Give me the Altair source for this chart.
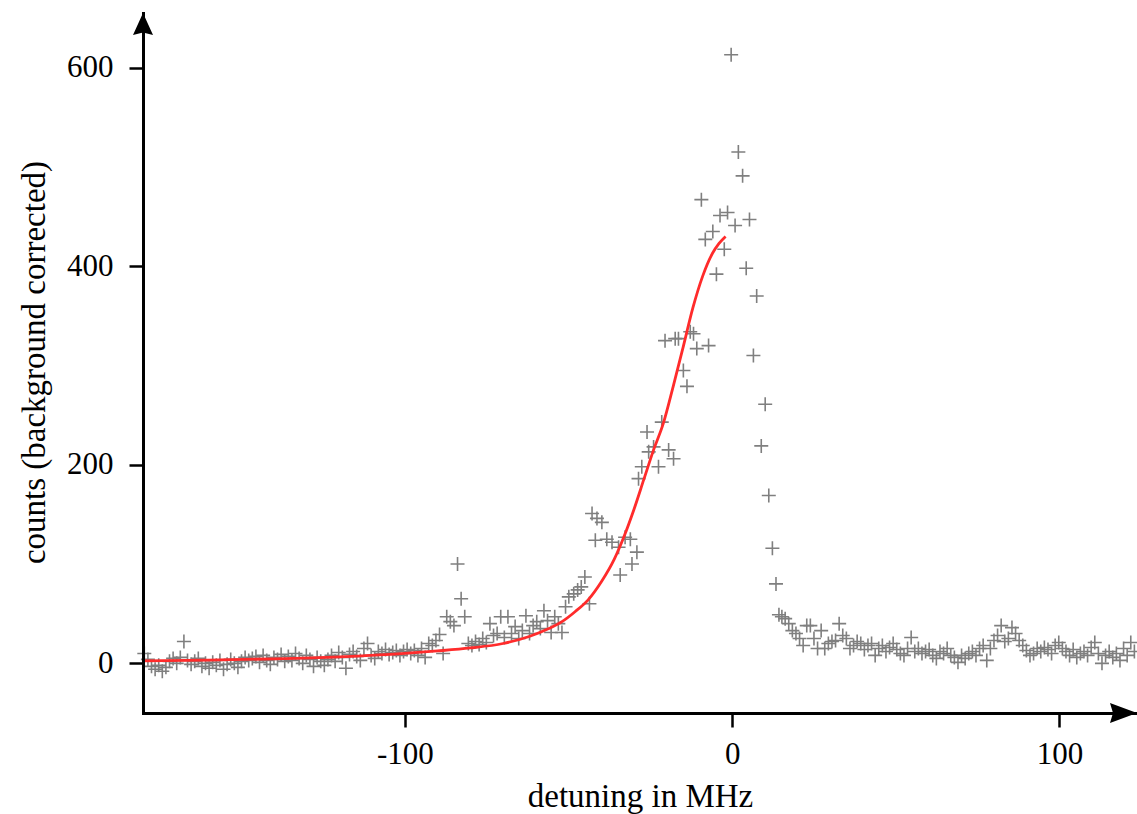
import altair as alt
import pandas as pd

# Measured spectrum: detuning (MHz) and background-corrected counts.
# Low-frequency wing
LEFT_MHZ = [
    -179.6, -178.5, -177.4, -176.3, -175.2, -174.1, -173.0, -171.9, -170.8, -169.7,
    -168.6, -167.5, -166.4, -165.3, -164.2, -163.1, -162.0, -160.9, -159.8, -158.7,
    -157.6, -156.5, -155.4, -154.3, -153.2, -152.1, -151.0, -149.9, -148.8, -147.7,
    -146.6, -145.5, -144.4, -143.3, -142.2, -141.1, -140.0, -138.9, -137.8, -136.7,
    -135.6, -134.5, -133.4, -132.3, -131.2, -130.1, -129.0, -127.9, -126.8, -125.7,
    -124.6, -123.5, -122.4, -121.3, -120.2, -119.1, -118.0, -116.9, -115.8, -114.7,
    -113.6, -112.5, -111.4, -110.3, -109.2, -108.1, -107.0, -105.9, -104.8, -103.7,
    -102.6, -101.5, -100.4, -99.3, -98.2, -97.1, -96.0, -94.9, -93.8, -92.7,
    -91.6, -90.5, -89.4, -88.3, -87.2, -86.1, -85.0, -83.9, -82.8, -81.7,
    -80.6, -79.5, -78.4, -77.3, -76.2, -75.1, -74.0, -72.9, -71.8, -70.7,
    -69.6, -68.5, -67.4, -66.3, -65.2, -64.1, -63.0, -61.9, -60.8, -59.7,
    -58.6, -57.5, -56.4, -55.3, -54.2, -53.1, -52.0, -50.9,
]
LEFT_COUNTS = [
    10, 4, -3, -6, -2, -8, -4, 2, 5, 0,
    6, 22, 3, -1, 2, 5, -3, 0, -5, 1,
    -2, 3, -6, -1, 4, 0, -4, 2, 6, 3,
    5, 7, 1, 8, 3, -1, 6, 4, 9, 2,
    7, 3, 10, 5, 0, 8, 4, -3, 6, 2,
    -2, 4, 8, 2, 11, 6, -5, 9, 12, 7,
    3, 15, 20, 8, 5, 12, 10, 14, 9, 11,
    13, 8, 12, 14, 10, 13, 8, 15, 6, 20,
    18, 23, 29, 10, 47, 42, 38, 100, 65, 47,
    20, 18, 22, 19, 25, 21, 40, 28, 30, 47,
    26, 47, 30, 37, 25, 33, 48, 30, 38, 42,
    35, 53, 43, 31, 47, 40, 31, 57,
]

# Resonance region
CORE_MHZ = [
    -49.9, -48.4, -47.2, -46.1, -45.0, -43.6, -42.8, -41.8, -41.3, -39.8,
    -38.3, -36.7, -34.7, -34.2, -32.7, -31.1, -30.6, -29.1, -28.6, -27.6,
    -26.0, -25.5, -24.0, -22.5, -21.5, -20.5, -19.4, -17.9, -17.4, -16.4,
    -14.9, -13.8, -12.8, -11.8, -10.8, -9.4, -8.2, -7.2, -5.9, -4.8,
    -3.7, -2.4, -1.4, -0.3, 0.9, 1.9, 3.2, 4.3, 5.3, 6.5,
    7.5, 8.9, 10.1, 11.2, 12.3, 13.4, 14.3, 15.2, 16.2, 17.3,
]
CORE_COUNTS = [
    67, 70, 74, 77, 87, 60, 151, 124, 146, 142,
    125, 122, 117, 89, 127, 125, 100, 112, 186, 198,
    233, 213, 218, 198, 243, 325, 215, 206, 327, 327,
    295, 279, 334, 332, 317, 467, 427, 320, 435, 392,
    451, 417, 454, 613, 441, 515, 491, 398, 447, 310,
    370, 219, 261, 169, 116, 80, 49, 47, 45, 40,
]

# High-frequency wing
RIGHT_MHZ = [
    18.4, 19.5, 20.6, 21.7, 22.8, 23.9, 25.0, 26.1, 27.2, 28.3,
    29.4, 30.5, 31.6, 32.7, 33.8, 34.9, 36.0, 37.1, 38.2, 39.3,
    40.4, 41.5, 42.6, 43.7, 44.8, 45.9, 47.0, 48.1, 49.2, 50.3,
    51.4, 52.5, 53.6, 54.7, 55.8, 56.9, 58.0, 59.1, 60.2, 61.3,
    62.4, 63.5, 64.6, 65.7, 66.8, 67.9, 69.0, 70.1, 71.2, 72.3,
    73.4, 74.5, 75.6, 76.7, 77.8, 78.9, 80.0, 81.1, 82.2, 83.3,
    84.4, 85.5, 86.6, 87.7, 88.8, 89.9, 91.0, 92.1, 93.2, 94.3,
    95.4, 96.5, 97.6, 98.7, 99.8, 100.9, 102.0, 103.1, 104.2, 105.3,
    106.4, 107.5, 108.6, 109.7, 110.8, 111.9, 113.0, 114.1, 115.2, 116.3,
    117.4, 118.5, 119.6, 120.7, 121.8, 122.9,
]
RIGHT_COUNTS = [
    33, 30, 25, 18, 38, 38, 25, 15, 33, 15,
    20, 22, 23, 40, 28, 25, 15, 18, 22, 20,
    14, 18, 20, 8, 15, 18, 12, 16, 20, 14,
    10, 8, 15, 26, 12, 15, 10, 12, 14, 8,
    5, 12, 10, 15, 8, 6, 1, 8, 5, 10,
    12, 8, 15, 18, 3, 15, 23, 28, 38, 22,
    25, 36, 30, 23, 18, 13, 8, 10, 15, 12,
    16, 14, 10, 18, 21, 15, 12, 8, 14, 6,
    10, 12, 8, 16, 21, 10, 0, 8, 12, 6,
    10, 3, 15, 8, 21, 12,
]

# Fitted curve on the red side of the resonance
FIT_MHZ = [-180, -160, -140, -120, -100, -90, -80, -70, -62, -56, -52, -48, -44, -40,
           -36, -33, -30, -27, -24, -21, -18, -15, -12, -9, -6, -4, -2]
FIT_COUNTS = [2.5, 3.3, 4.5, 6.5, 10, 12.5, 15.5, 20, 27, 35, 42, 52, 64, 82,
              105, 128, 155, 185, 215, 242, 279, 318, 358, 390, 413, 423, 430]

X_TICKS = [-100, 0, 100]
Y_TICKS = [0, 200, 400, 600]
X_DOMAIN = [-180, 123.7]
Y_DOMAIN = [-50, 655]

FONT = "Liberation Serif"
PLOT_W, PLOT_H = 994, 700

points_df = pd.DataFrame({
    "detuning": LEFT_MHZ + CORE_MHZ + RIGHT_MHZ,
    "counts": LEFT_COUNTS + CORE_COUNTS + RIGHT_COUNTS,
})
fit_df = pd.DataFrame({"detuning": FIT_MHZ, "counts": FIT_COUNTS})

axis_style = dict(
    labelFont=FONT, labelFontSize=31, labelColor="black",
    titleFont=FONT, titleFontSize=33, titleFontWeight="normal", titleColor="black",
    tickColor="black", tickWidth=2.5, tickSize=14,
    domainColor="black", domainWidth=3, domainCap="square",
    grid=False, zindex=1,
)

x_enc = alt.X(
    "detuning:Q",
    scale=alt.Scale(domain=X_DOMAIN, nice=False, zero=False),
    axis=alt.Axis(
        values=X_TICKS,
        title="detuning in MHz",
        labelExpr="datum.value < 0 ? '-' + abs(datum.value) : '' + datum.value",
        labelPadding=12,
        titleX=PLOT_W / 2, titleY=93,
        titleAlign="center", titleBaseline="alphabetic",
        **axis_style,
    ),
)
y_enc = alt.Y(
    "counts:Q",
    scale=alt.Scale(domain=Y_DOMAIN, nice=False, zero=False),
    axis=alt.Axis(
        values=Y_TICKS,
        title="counts (background corrected)",
        labelPadding=16,
        titleX=-99, titleY=PLOT_H / 2 - 1, titleAngle=270,
        titleAlign="center", titleBaseline="alphabetic",
        **axis_style,
    ),
)

# "+" markers
CROSS = "M-1,0L1,0M0,-1L0,1"
points = alt.Chart(points_df).mark_point(
    shape=CROSS, filled=False, stroke="#7f7f7f", strokeWidth=1.6, size=196, opacity=1,
).encode(x=x_enc, y=y_enc)

fit = alt.Chart(fit_df).mark_line(
    color="#ff2b2b", strokeWidth=2.8, interpolate="monotone",
).encode(x=x_enc, y=y_enc)

# Arrowheads at the ends of the axes
anchor = pd.DataFrame({"k": [0]})
X_ARROW = "M0,0L-2.7,-1L-2.4,0L-2.7,1Z"
Y_ARROW = "M0,0L-1,2.2L0,1.95L1,2.2Z"
x_arrow = alt.Chart(anchor).mark_point(
    shape=X_ARROW, filled=True, fill="black", strokeWidth=0, size=400, opacity=1,
).encode(x=alt.value("width"), y=alt.value("height"))
y_arrow = alt.Chart(anchor).mark_point(
    shape=Y_ARROW, filled=True, fill="black", strokeWidth=0, size=400, opacity=1,
).encode(x=alt.value(0), y=alt.value(0))

chart = alt.layer(points, fit, x_arrow, y_arrow).properties(
    width=PLOT_W,
    height=PLOT_H,
    padding={"left": 143, "top": 13, "right": 0, "bottom": 101},
    autosize=alt.AutoSizeParams(type="none"),
    background="white",
).configure_view(stroke=None)

chart.save("out.html", embed_options={"renderer": "svg", "actions": False})
